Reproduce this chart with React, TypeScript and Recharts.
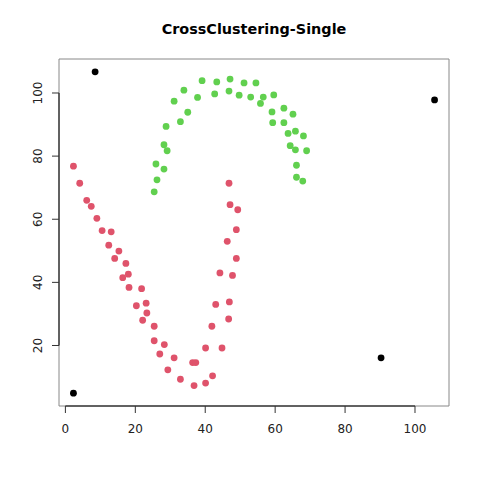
import React from 'react';
import {
  ScatterChart, Scatter, XAxis, YAxis, ReferenceArea, ReferenceLine,
} from 'recharts';

// Colores de la paleta R 4.x
const COLORS = {
  red: '#DF536B',
  green: '#61D04F',
  black: '#000000',
};

const X_DOMAIN: [number, number] = [-1.83, 109.73];
const Y_DOMAIN: [number, number] = [0.83, 110.77];
const X_TICKS = [0, 20, 40, 60, 80, 100];
const Y_TICKS = [20, 40, 60, 80, 100];

// Grupo 1 (rojo)
const redX = [2.3, 4.1, 6.1, 7.4, 9.0, 10.5, 13.1, 12.4, 15.3, 14.1, 17.3, 18.0, 16.4, 18.2, 21.8,
  20.3, 23.1, 23.3, 22.1, 25.4, 25.4, 28.3, 27.0, 31.1, 29.3, 32.9, 36.4, 37.3, 36.8, 40.1,
  42.1, 40.1, 44.8, 41.9, 43.0, 46.9, 46.7, 46.8, 47.1, 49.3, 48.9, 46.3, 48.9, 44.2, 47.8];
const redY = [76.8, 71.4, 66.0, 64.1, 60.3, 56.4, 56.0, 51.8, 49.9, 47.6, 46.0, 42.6, 41.5, 38.4, 38.0,
  32.6, 33.4, 30.3, 28.0, 26.1, 21.5, 20.3, 17.3, 16.1, 12.3, 9.3, 14.6, 14.6, 7.3, 8.1,
  10.4, 19.2, 19.2, 26.1, 33.0, 33.8, 28.4, 71.4, 64.6, 63.0, 56.7, 53.0, 47.6, 43.0, 42.2];

// Grupo 2 (verde)
const greenX = [39.1, 43.3, 47.1, 33.9, 37.8, 42.7, 46.8, 49.7, 31.1, 35.0, 32.9, 28.8, 28.2, 29.1,
  25.9, 28.2, 26.2, 25.4, 51.1, 54.5, 53.0, 56.6, 55.8, 59.6, 59.1, 62.5, 65.1, 59.3, 62.5,
  63.7, 65.8, 68.1, 64.3, 65.8, 69.0, 66.1, 66.1, 67.9];
const greenY = [103.9, 103.5, 104.4, 100.9, 98.6, 99.7, 100.6, 99.3, 97.4, 93.9, 90.9, 89.4, 83.6, 81.7,
  77.5, 75.9, 72.5, 68.7, 103.2, 103.2, 98.7, 98.7, 96.7, 99.4, 94.0, 95.2, 93.3, 90.6, 90.6,
  87.2, 87.9, 86.4, 83.3, 82.0, 81.7, 77.1, 73.3, 72.1];

// Ruido (negro)
const blackX = [8.5, 105.6, 2.3, 90.3];
const blackY = [106.7, 97.8, 4.9, 16.1];

const toPoints = (xs: number[], ys: number[]) => xs.map((x, i) => ({ x, y: ys[i] }));

const dot = (color: string) => (props: any) => (
  <circle cx={props.cx} cy={props.cy} r={3.4} fill={color} />
);

const YTick = (props: any) => {
  const { x, y, payload } = props;
  return (
    <text
      x={x}
      y={y}
      transform={`rotate(-90, ${x}, ${y})`}
      textAnchor="middle"
      fontSize={12}
      fill="#222"
      fontFamily="DejaVu Sans, sans-serif"
    >
      {payload.value}
    </text>
  );
};

const App: React.FC = () => {
  return (
    <div style={{ position: 'absolute', left: 0, top: 0, width: 480, height: 480, background: '#fff' }}>
      <div
        style={{
          position: 'absolute', left: 59, width: 390, top: 21, textAlign: 'center',
          fontFamily: 'DejaVu Sans, sans-serif', fontWeight: 'bold', fontSize: 14.4, color: '#000',
        }}
      >
        CrossClustering-Single
      </div>
      <ScatterChart width={480} height={480} margin={{ top: 59, right: 31, left: 0, bottom: 0 }}>
        <XAxis
          type="number"
          dataKey="x"
          domain={X_DOMAIN}
          ticks={X_TICKS}
          allowDataOverflow
          axisLine={false}
          tickLine={{ stroke: '#333' }}
          tickSize={7}
          tickMargin={11}
          height={74}
          tick={{ fontSize: 12, fill: '#222', fontFamily: 'DejaVu Sans, sans-serif' }}
        />
        <YAxis
          type="number"
          dataKey="y"
          domain={Y_DOMAIN}
          ticks={Y_TICKS}
          allowDataOverflow
          axisLine={false}
          tickLine={{ stroke: '#333' }}
          tickSize={7}
          tickMargin={10}
          width={59}
          tick={<YTick />}
        />
        <ReferenceArea
          x1={X_DOMAIN[0]} x2={X_DOMAIN[1]} y1={Y_DOMAIN[0]} y2={Y_DOMAIN[1]}
          fill="none" stroke="#888" strokeWidth={1} fillOpacity={0} ifOverflow="visible"
        />
        <ReferenceLine
          segment={[{ x: 0, y: Y_DOMAIN[0] }, { x: 100, y: Y_DOMAIN[0] }]}
          stroke="#000" ifOverflow="visible"
        />
        <ReferenceLine
          segment={[{ x: X_DOMAIN[0], y: 20 }, { x: X_DOMAIN[0], y: 100 }]}
          stroke="#000" ifOverflow="visible"
        />
        <Scatter data={toPoints(redX, redY)} shape={dot(COLORS.red)} isAnimationActive={false} />
        <Scatter data={toPoints(greenX, greenY)} shape={dot(COLORS.green)} isAnimationActive={false} />
        <Scatter data={toPoints(blackX, blackY)} shape={dot(COLORS.black)} isAnimationActive={false} />
      </ScatterChart>
    </div>
  );
};

export default App;
